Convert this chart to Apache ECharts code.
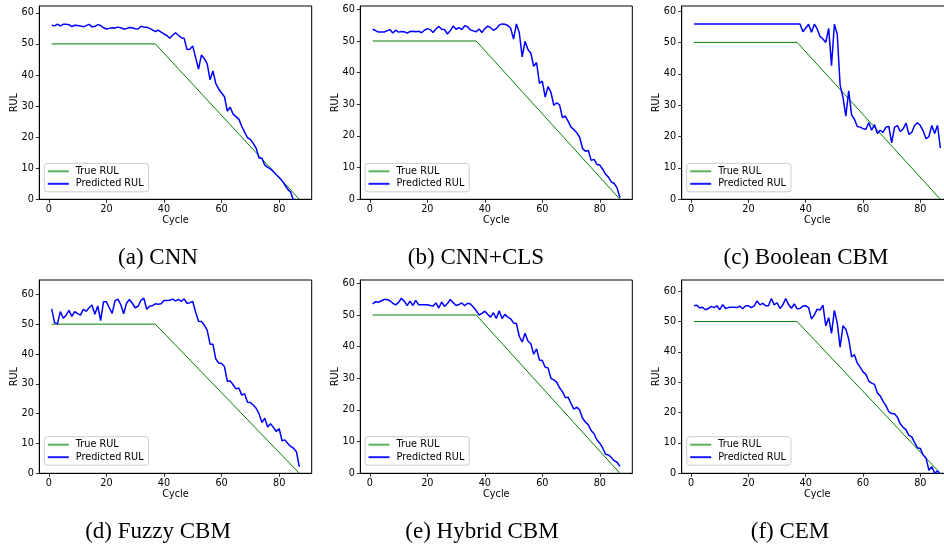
<!DOCTYPE html>
<html>
<head>
<meta charset="utf-8">
<script src="https://cdn.jsdelivr.net/npm/echarts@6/dist/echarts.min.js"></script>
<style>
html,body{margin:0;padding:0;background:#fff;}
#chart{width:944px;height:546px;}
</style>
</head>
<body>
<div id="chart"></div>
<script>
// ---------------- data ----------------
const cycles = [1,2,3,4,5,6,7,8,9,10,11,12,13,14,15,16,17,18,19,20,21,22,23,24,25,26,27,28,29,30,31,32,33,34,35,36,37,38,39,40,41,42,43,44,45,46,47,48,49,50,51,52,53,54,55,56,57,58,59,60,61,62,63,64,65,66,67,68,69,70,71,72,73,74,75,76,77,78,79,80,81,82,83,84,85,86,87];
const trueCycles = [1, 37, 87];
const trueRUL = [50, 50, 0];

const predCNN = [56.0,55.8,56.4,55.8,56.3,56.3,56.2,55.6,56.0,55.9,
  55.8,55.5,55.9,56.3,55.5,55.6,56.2,55.9,55.2,54.8,
  55.0,55.2,55.1,55.4,55.2,54.8,54.9,55.3,55.2,54.9,
  54.8,55.7,55.4,55.4,55.0,54.5,54.0,54.4,53.8,53.2,
  52.7,51.8,52.8,53.6,52.8,52.0,51.8,48.2,48.3,49.3,
  45.5,41.9,46.4,45.3,43.6,38.5,41.3,37.2,35.5,34.2,
  33.0,28.4,29.6,27.4,26.6,25.8,23.5,21.6,19.8,19.3,
  18.0,16.5,13.3,13.2,11.0,10.3,9.8,8.9,7.9,7.0,
  6.0,4.6,3.2,2.3,-0.4,-1.5,-2.0];
const predCNNCLS = [53.7,53.3,52.8,52.8,52.8,53.2,53.6,52.5,53.4,52.8,
  53.0,52.9,52.5,53.0,53.1,52.9,53.1,52.6,53.4,53.9,
  53.6,52.7,53.8,54.6,53.7,53.6,52.2,53.3,54.7,53.7,
  54.2,53.6,54.8,54.5,53.5,53.2,52.9,53.8,52.7,53.9,
  54.7,54.2,53.4,53.9,55.0,55.4,55.3,54.9,54.0,50.6,
  55.4,52.6,45.0,49.9,47.3,46.2,42.0,43.2,36.6,37.3,
  32.3,35.6,33.8,29.7,30.5,29.8,25.8,26.3,24.6,22.8,
  22.0,21.0,19.6,16.0,15.2,15.4,12.3,12.6,11.0,10.8,
  9.5,7.9,7.0,5.5,5.0,3.6,0.5];
const predBoolean = [55.9,55.9,55.9,55.9,55.9,55.9,55.9,55.9,55.9,55.9,
  55.9,55.9,55.9,55.9,55.9,55.9,55.9,55.9,55.9,55.9,
  55.9,55.9,55.9,55.9,55.9,55.9,55.9,55.9,55.9,55.9,
  55.9,55.9,55.9,55.9,55.9,55.9,55.9,55.9,53.4,54.6,
  55.8,53.2,55.8,54.3,51.9,51.1,50.0,54.5,42.6,55.8,
  52.6,36.4,32.5,26.5,34.6,26.9,25.5,23.2,23.0,22.5,
  22.3,24.5,22.0,23.8,21.0,22.0,21.3,23.0,23.2,18.0,
  23.0,23.5,21.6,22.4,24.3,20.7,21.3,23.5,24.4,23.5,
  21.8,19.3,20.0,23.5,21.0,23.6,16.3];
const predFuzzy = [55.1,50.5,50.1,54.2,52.0,53.0,54.6,52.6,54.2,53.5,
  53.0,55.0,54.3,55.5,56.4,53.3,56.1,51.2,57.5,57.5,
  55.5,53.6,57.8,58.4,56.5,53.5,57.0,58.3,57.0,55.5,
  56.0,58.0,58.7,55.0,56.0,56.2,56.8,56.7,56.8,57.9,
  57.9,58.0,58.4,57.8,58.3,57.6,58.5,57.0,57.2,57.6,
  54.0,51.0,50.9,49.7,48.0,43.3,43.3,38.3,37.0,36.8,
  35.8,30.8,31.0,29.7,28.3,28.6,26.2,26.7,23.8,23.7,
  22.9,21.8,20.0,17.0,18.5,15.5,16.6,15.4,14.0,15.0,
  10.9,11.2,10.0,9.0,8.4,7.2,2.2];
const predHybrid = [53.5,54.2,54.0,54.5,54.9,54.9,54.5,53.7,53.2,54.0,
  55.3,54.3,53.0,54.4,53.0,54.6,53.2,53.2,53.2,53.2,
  53.0,52.8,53.8,52.2,54.1,52.7,53.6,54.9,53.9,53.0,
  53.3,53.8,52.9,53.7,53.5,52.5,51.4,50.0,50.5,51.2,
  50.2,49.3,50.7,48.9,51.3,48.9,50.2,49.3,48.8,47.5,
  47.3,43.2,41.5,44.2,41.8,40.9,37.6,39.3,35.8,35.6,
  33.5,33.3,30.0,29.5,28.8,27.0,25.8,23.9,24.0,22.0,
  20.3,20.9,20.0,17.4,16.2,15.3,13.5,12.5,10.5,9.5,
  8.0,6.0,5.8,5.0,4.0,3.5,2.2];
const predCEM = [55.2,55.4,54.5,54.7,53.9,54.3,55.0,54.6,55.2,53.9,
  55.6,54.3,54.6,54.7,54.7,54.6,55.1,54.2,55.2,55.2,
  54.6,55.2,56.8,55.5,56.0,55.2,55.2,57.6,55.5,56.2,
  54.3,55.5,57.6,55.6,54.4,55.8,54.2,54.3,55.1,55.2,
  54.6,50.8,52.2,54.1,53.8,55.4,48.6,51.3,46.1,53.7,
  49.5,41.6,48.6,47.5,44.2,38.4,39.1,36.3,35.0,33.4,
  32.6,30.4,29.7,29.3,26.5,25.5,23.7,22.3,20.3,19.7,
  19.6,18.5,16.3,15.2,14.3,12.5,12.0,10.2,8.4,8.2,
  6.0,5.0,1.0,2.2,0.0,0.8,-0.5];

const predictions = [predCNN, predCNNCLS, predBoolean, predFuzzy, predHybrid, predCEM];
const captions = ['(a) CNN', '(b) CNN+CLS', '(c) Boolean CBM', '(d) Fuzzy CBM', '(e) Hybrid CBM', '(f) CEM'];
const xTicks = [0, 20, 40, 60, 80];
const yTicks = [0, 10, 20, 30, 40, 50, 60];
const yMax = [62.2, 61.05, 61.6, 64.8, 61.05, 63.7];
const xRange = [-3.3, 91.3];

// ---------------- layout ----------------
const gridPos = [
  {left: 39.3, top: 6, width: 272.4, height: 193.3},
  {left: 360.3, top: 6, width: 272, height: 193.3},
  {left: 681.7, top: 6, width: 271, height: 193.3},
  {left: 39.3, top: 280, width: 272.4, height: 193.3},
  {left: 360.3, top: 280, width: 272, height: 193.3},
  {left: 681.7, top: 280, width: 271, height: 193.3}
];
const legendPos = [
  {left: 44.3, top: 163.3}, {left: 365, top: 163.3}, {left: 686.7, top: 163.3},
  {left: 44.3, top: 436.7}, {left: 365, top: 436.7}, {left: 686.7, top: 436.7}
];
const captionPos = [[158, 258], [476, 258], [806, 258], [158, 532], [482, 532], [790, 532]];

const sans = 'DejaVu Sans';
const tickFont = {fontSize: 9.7, color: '#000', fontFamily: sans};

const grids = [], xAxes = [], yAxes = [], series = [], legends = [], graphics = [];
for (let i = 0; i < 6; i++) {
  grids.push(Object.assign({show: true, borderColor: '#000', borderWidth: 1, backgroundColor: '#fff', outerBoundsMode: 'none', containLabel: false}, gridPos[i]));
  xAxes.push({
    type: 'value', gridIndex: i, min: xRange[0], max: xRange[1],
    name: 'Cycle', nameLocation: 'middle', nameGap: 16, nameMoveOverlap: false,
    nameTextStyle: tickFont,
    axisLine: {show: true, onZero: false, lineStyle: {color: '#000', width: 1}},
    axisTick: {show: true, length: 3.5, customValues: xTicks, lineStyle: {color: '#000', width: 0.8}},
    axisLabel: {customValues: xTicks, margin: 5, ...tickFont},
    splitLine: {show: false}
  });
  yAxes.push({
    type: 'value', gridIndex: i, min: 0, max: yMax[i],
    name: 'RUL', nameLocation: 'middle', nameGap: 20, nameRotate: 90, nameMoveOverlap: false,
    nameTextStyle: tickFont,
    axisLine: {show: true, onZero: false, lineStyle: {color: '#000', width: 1}},
    axisTick: {show: true, length: 3.5, customValues: yTicks, lineStyle: {color: '#000', width: 0.8}},
    axisLabel: {customValues: yTicks, margin: 5.5, ...tickFont},
    splitLine: {show: false}
  });
  series.push({
    name: 'True RUL', type: 'line', xAxisIndex: i, yAxisIndex: i,
    data: trueCycles.map((c, k) => [c, trueRUL[k]]),
    symbol: 'none', clip: true, lineStyle: {color: '#008000', width: 1}, itemStyle: {color: '#008000'},
    z: 2
  });
  series.push({
    name: 'Predicted RUL', type: 'line', xAxisIndex: i, yAxisIndex: i,
    data: cycles.map((c, k) => [c, predictions[i][k]]),
    symbol: 'none', clip: true, lineStyle: {color: '#0000ff', width: 1.5}, itemStyle: {color: '#0000ff'},
    z: 3
  });
  legends.push(Object.assign({
    orient: 'vertical', itemWidth: 21, itemHeight: 2, itemGap: 2.5,
    padding: [3, 5, 3, 3.5], borderColor: '#cccccc', borderWidth: 1, borderRadius: 3,
    backgroundColor: 'rgba(255,255,255,0.85)', selectedMode: false, icon: 'rect',
    textStyle: {fontSize: 9.7, color: '#000', fontFamily: sans, padding: [0, 0, 0, 2]},
    data: [
      {name: 'True RUL', itemStyle: {color: '#5cb25c'}},
      {name: 'Predicted RUL', itemStyle: {color: '#1a1aff'}}
    ]
  }, legendPos[i]));
  graphics.push({
    type: 'text', x: captionPos[i][0], y: captionPos[i][1], silent: true,
    style: {text: captions[i], fill: '#000', font: '23px "Liberation Serif"', textAlign: 'center', textVerticalAlign: 'middle'}
  });
}

const chart = echarts.init(document.getElementById('chart'), null, {renderer: 'canvas'});
chart.setOption({
  animation: false,
  backgroundColor: '#fff',
  grid: grids, xAxis: xAxes, yAxis: yAxes, series: series, legend: legends,
  graphic: graphics
});
</script>
</body>
</html>
